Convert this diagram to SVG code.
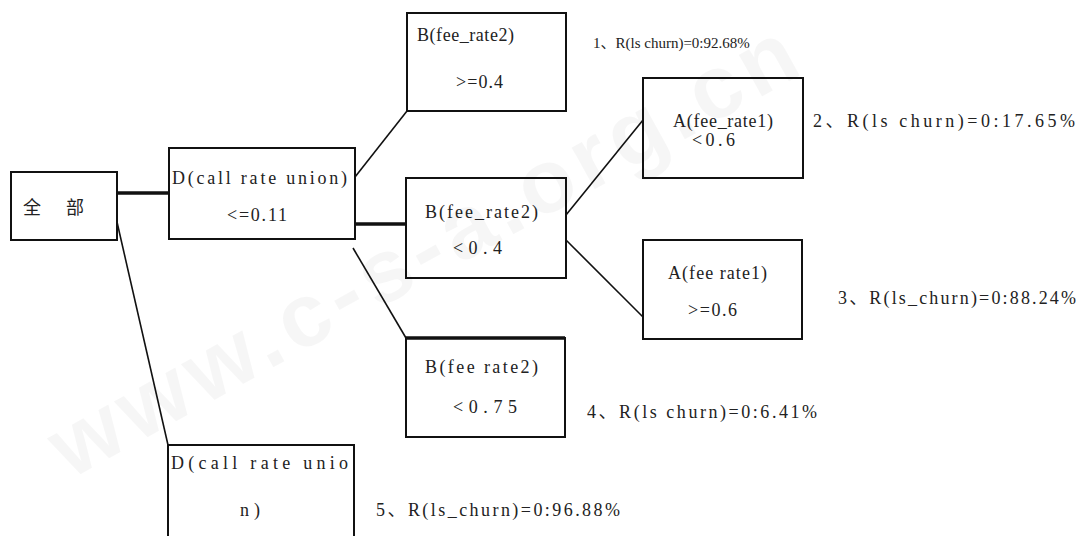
<svg xmlns="http://www.w3.org/2000/svg" width="1078" height="536" viewBox="0 0 1078 536">
<style>
.box{fill:none;stroke:#111;stroke-width:2}
.t{font-family:"Liberation Serif","Noto Sans CJK SC",serif;font-size:18px;fill:#222}
.l{font-family:"Liberation Serif","Noto Sans CJK SC",serif;font-size:18px;fill:#222}
.s{font-family:"Liberation Serif","Noto Sans CJK SC",serif;font-size:15px;fill:#222}
.cn{font-family:"Noto Sans CJK SC",serif;font-size:18px;fill:#222}
.ln{stroke:#111;stroke-width:1.6;fill:none}
.thick{stroke:#111;stroke-width:3.5;fill:none}
.wm{font-family:"Liberation Sans",sans-serif;font-weight:bold;font-size:90px;fill:#000;fill-opacity:0.035}
</style>
<rect width="1078" height="536" fill="#fff"/>
<text class="wm" x="70" y="480" transform="rotate(-29 70 480)" textLength="840" lengthAdjust="spacing">www.c-s-a.org.cn</text>
<g id="connectors">
<line class="thick" x1="117" y1="193" x2="169" y2="193"/>
<line class="ln" x1="117" y1="222" x2="168" y2="445"/>
<line class="ln" x1="355" y1="177" x2="407" y2="111"/>
<line class="thick" x1="355" y1="224" x2="406" y2="224"/>
<line class="ln" x1="353" y1="248" x2="406" y2="338"/>
<line class="ln" x1="566" y1="215" x2="643" y2="120"/>
<line class="ln" x1="566" y1="240" x2="643" y2="317"/>
</g>
<g id="root">
<rect class="box" x="11" y="172" width="106" height="68"/>
<text class="cn" x="23" y="214" textLength="61" lengthAdjust="spacing">全 部</text>
</g>
<g id="d1">
<rect class="box" x="169" y="148" width="186" height="91"/>
<text class="t" x="172" y="184" textLength="175" lengthAdjust="spacing">D(call rate union)</text>
<text class="t" x="227" y="221" textLength="60" lengthAdjust="spacing">&lt;=0.11</text>
</g>
<g id="b-top">
<rect class="box" x="407" y="13" width="159" height="98"/>
<text class="t" x="417" y="41" textLength="97" lengthAdjust="spacing">B(fee_rate2)</text>
<text class="t" x="456" y="88" textLength="47" lengthAdjust="spacing">&gt;=0.4</text>
</g>
<g id="b-mid">
<rect class="box" x="406" y="178" width="160" height="100"/>
<text class="t" x="425" y="218" textLength="113" lengthAdjust="spacing">B(fee_rate2)</text>
<text class="t" x="453" y="254" textLength="49" lengthAdjust="spacing">&lt;0.4</text>
</g>
<g id="b-low">
<rect class="box" x="406" y="338" width="159" height="99"/>
<line class="thick" x1="406" y1="338" x2="565" y2="338"/>
<text class="t" x="425" y="373" textLength="113" lengthAdjust="spacing">B(fee rate2)</text>
<text class="t" x="453" y="413" textLength="64" lengthAdjust="spacing">&lt;0.75</text>
</g>
<g id="a-top">
<rect class="box" x="643" y="78" width="160" height="100"/>
<text class="t" x="673" y="127" textLength="100" lengthAdjust="spacing">A(fee_rate1)</text>
<text class="t" x="692" y="146" textLength="43" lengthAdjust="spacing">&lt;0.6</text>
</g>
<g id="a-bot">
<rect class="box" x="643" y="240" width="159" height="99"/>
<text class="t" x="668" y="279" textLength="99" lengthAdjust="spacing">A(fee rate1)</text>
<text class="t" x="688" y="316" textLength="49" lengthAdjust="spacing">&gt;=0.6</text>
</g>
<g id="d2">
<rect class="box" x="168" y="445" width="186" height="100"/>
<text class="t" x="171" y="469" textLength="177" lengthAdjust="spacing">D(call rate unio</text>
<text class="t" x="240" y="516" textLength="20" lengthAdjust="spacing">n)</text>
</g>
<g id="labels">
<text class="s" x="593" y="48">1、R(ls churn)=0:92.68%</text>
<text class="l" x="813" y="127" textLength="262" lengthAdjust="spacing">2、R(ls churn)=0:17.65%</text>
<text class="l" x="838" y="304" textLength="238" lengthAdjust="spacing">3、R(ls_churn)=0:88.24%</text>
<text class="l" x="587" y="418" textLength="230" lengthAdjust="spacing">4、R(ls churn)=0:6.41%</text>
<text class="l" x="376" y="516" textLength="244" lengthAdjust="spacing">5、R(ls_churn)=0:96.88%</text>
</g>
</svg>
